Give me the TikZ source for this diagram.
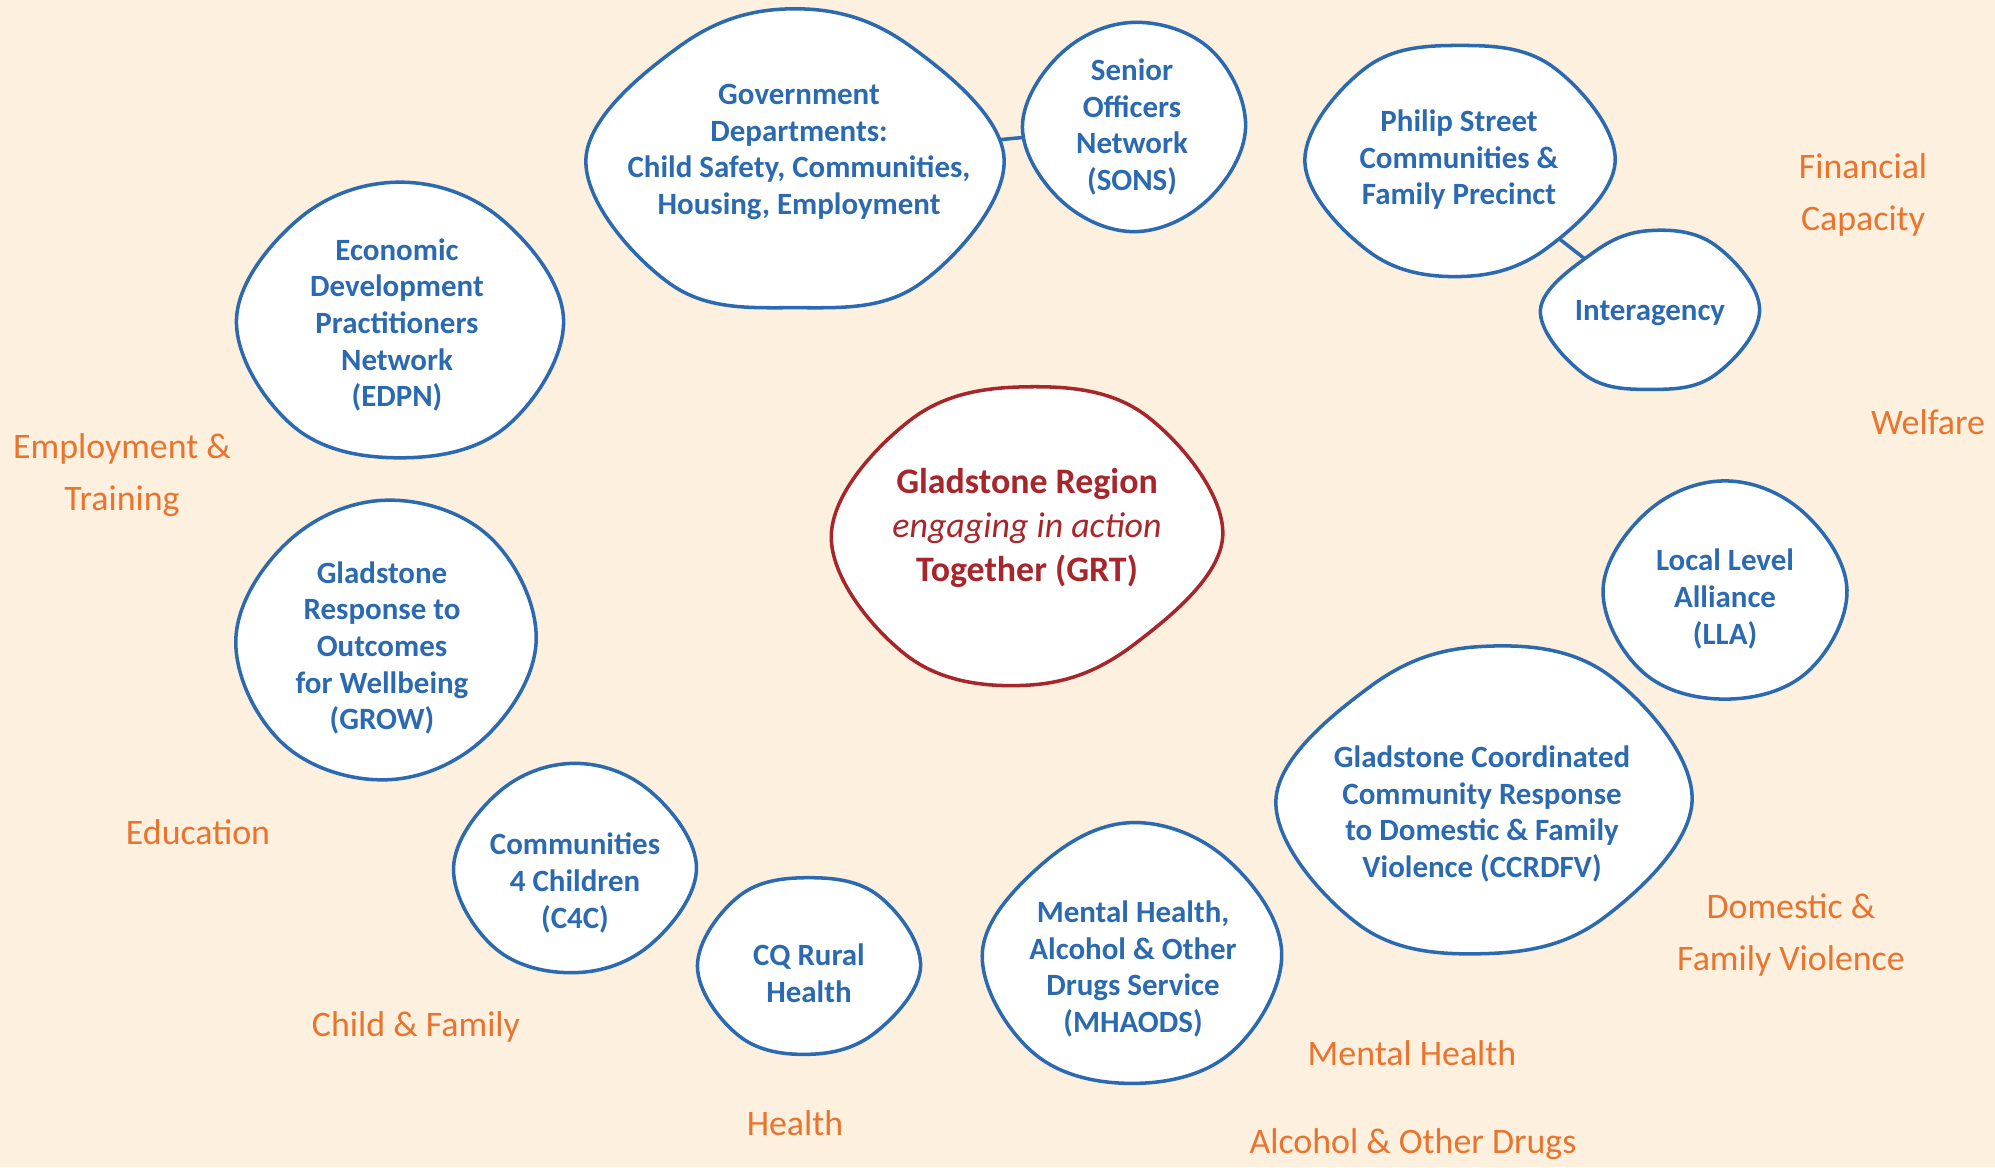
\documentclass[tikz,border=0pt]{standalone}
\usepackage{fontspec}
\setmainfont{Carlito}
\usetikzlibrary{shapes.geometric, calc}
\pgfdeclarelayer{background}
\pgfsetlayers{background,main}
\definecolor{cream}{HTML}{FDF0DF}
\definecolor{orgblue}{HTML}{2B6AB0}
\definecolor{grtred}{HTML}{A6262B}
\definecolor{sector}{HTML}{E8742E}

\tikzset{
	blobframe/.style={ellipse, inner sep=0pt},
	blobline/.style={line width=1pt, fill=white, line join=round},
	orgtext/.style={text=orgblue, align=center, font=\bfseries\fontsize{8.8}{10.4}\selectfont},
	sectortext/.style={text=sector, align=center, font=\fontsize{10.2}{14.8}\selectfont},
	link/.style={orgblue, line width=1pt},
}

% #1 colour, #2 name, #3 centre, #4 width, #5 height, #6 radius factors E,NE,N,...,SE
\newcommand{\orgblob}[6][orgblue]{%
	\node[blobframe, minimum width=#4*0.01cm, minimum height=#5*0.01cm] (#2) at #3 {};
	\foreach \f [count=\i from 0] in {#6} {
		\pgfmathtruncatemacro{\ang}{45*\i}
		\coordinate (#2-\i) at ($(#2.center)!\f!(#2.\ang)$);
	}
	\draw[blobline, draw=#1] plot[smooth cycle, tension=0.64] coordinates {(#2-0) (#2-1) (#2-2) (#2-3) (#2-4) (#2-5) (#2-6) (#2-7)};
}

\begin{document}
\begin{tikzpicture}[x=0.01cm, y=-0.01cm]
	\useasboundingbox (0,0) rectangle (1995,1167);

	\orgblob{gov}{(795,159)}{421}{299}{0.99,0.93,1,0.93,0.99,1.02,0.99,1.02}
	\orgblob{sons}{(1134,127)}{224}{210}{0.99,1,0.99,0.95,0.99,0.95,0.99,0.95}
	\orgblob{philip}{(1460,161)}{312}{232}{0.99,1,0.99,1,0.99,0.97,0.99,0.93}
	\orgblob{inter}{(1650,310)}{220}{159}{0.99,1,0.99,0.88,0.99,1,0.99,1}
	\orgblob{edpn}{(400,320)}{329}{277}{0.99,0.95,0.99,0.95,0.99,1,0.99,1}
	\orgblob[grtred]{grt}{(1027,536)}{394}{300}{0.99,1,0.99,0.97,0.99,1,0.99,0.9}
	\orgblob{grow}{(386,640)}{302}{281}{0.99,1,0.99,0.95,0.99,1,0.99,0.95}
	\orgblob{lla}{(1725,590)}{245}{219}{0.99,0.95,0.99,0.95,0.99,1,0.99,1}
	\orgblob{ccr}{(1484,800)}{419}{309}{0.99,1,0.99,0.91,0.99,1,0.99,0.95}
	\orgblob{cfc}{(575,868)}{244}{210}{0.99,0.95,0.99,0.95,0.99,1,0.99,0.95}
	\orgblob{cqr}{(809,966)}{224}{177}{0.99,1,0.99,1,0.99,1,0.99,0.95}
	\orgblob{mhaods}{(1132,953)}{301}{262}{0.99,0.95,0.99,0.9,0.99,1,0.99,1}

	\begin{pgfonlayer}{background}
		\fill[cream] (0,0) rectangle (1995,1167);
		\draw[link] (gov.center) -- (sons.center);
		\draw[link] (philip.center) -- (inter.center);
	\end{pgfonlayer}

	\node[orgtext] (gov-t) at (799,152) {Government\\Departments:\\Child Safety, Communities,\\Housing, Employment};
	\node[orgtext] (sons-t) at (1132,127) {Senior\\Officers\\Network\\(SONS)};
	\node[orgtext] (philip-t) at (1459,160) {Philip Street\\Communities \&\\Family Precinct};
	\node[orgtext] (inter-t) at (1650,313) {Interagency};
	\node[orgtext] (edpn-t) at (397,325) {Economic\\Development\\Practitioners\\Network\\(EDPN)};
	\node[text=grtred, align=center, font=\fontsize{10.2}{12.4}\selectfont] (grt-t) at (1027,528)
		{\textbf{Gladstone Region}\\\textit{engaging in action}\\\textbf{Together (GRT)}};
	\node[orgtext] (grow-t) at (382,648) {Gladstone\\Response to\\Outcomes\\for Wellbeing\\(GROW)};
	\node[orgtext] (lla-t) at (1725,599) {Local Level\\Alliance\\(LLA)};
	\node[orgtext] (ccr-t) at (1482,814) {Gladstone Coordinated\\Community Response\\to Domestic \& Family\\Violence (CCRDFV)};
	\node[orgtext] (cfc-t) at (575,883) {Communities\\4 Children\\(C4C)};
	\node[orgtext] (cqr-t) at (809,973) {CQ Rural\\Health};
	\node[orgtext] (mhaods-t) at (1133,969) {Mental Health,\\Alcohol \& Other\\Drugs Service\\(MHAODS)};

	\node[sectortext] (financial) at (1863,195) {Financial\\Capacity};
	\node[sectortext] (welfare) at (1928,422) {Welfare};
	\node[sectortext] (employment) at (122,475) {Employment \&\\Training};
	\node[sectortext] (education) at (198,832) {Education};
	\node[sectortext] (childfamily) at (416,1027) {Child \& Family};
	\node[sectortext] (health) at (795,1123) {Health};
	\node[sectortext] (mental) at (1412,1053) {Mental Health};
	\node[sectortext] (alcohol) at (1413,1144) {Alcohol \& Other Drugs};
	\node[sectortext] (domestic) at (1791,935) {Domestic \&\\Family Violence};
\end{tikzpicture}
\end{document}
